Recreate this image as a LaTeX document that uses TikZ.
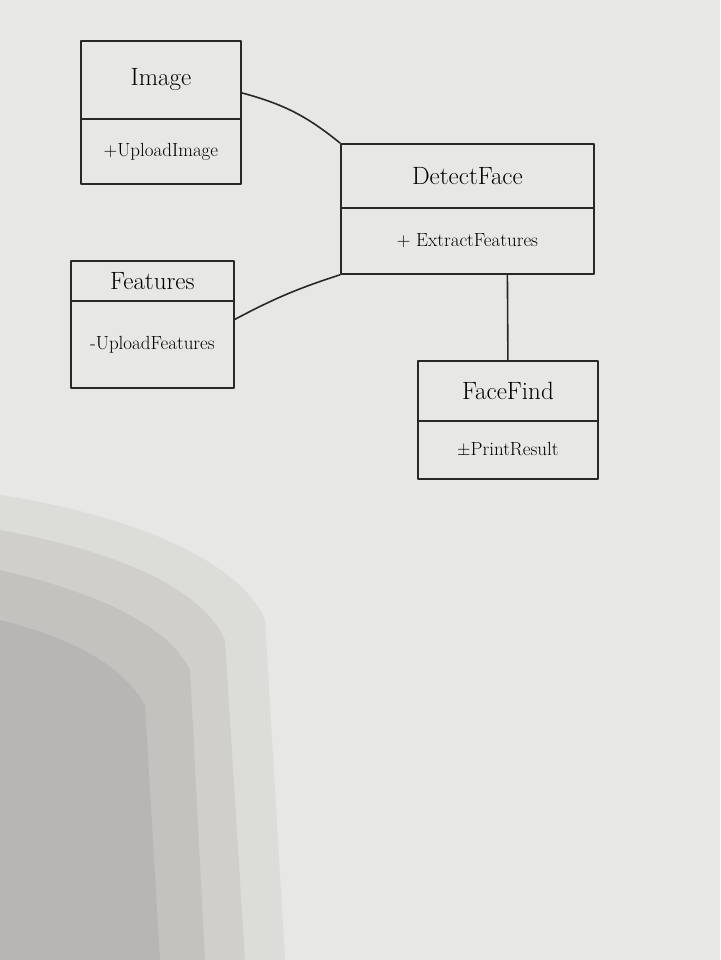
\documentclass[tikz,border=0pt]{standalone}
\usetikzlibrary{positioning}
\definecolor{paper}{RGB}{231,232,229}
\definecolor{shadeA}{RGB}{220,220,217}
\definecolor{shadeB}{RGB}{208,207,204}
\definecolor{shadeC}{RGB}{195,194,191}
\definecolor{shadeD}{RGB}{184,182,180}
\definecolor{ink}{RGB}{40,40,40}
\tikzset{
 classbox/.style={draw=ink, line width=1.8pt, inner sep=0pt, align=center},
 headbox/.style={classbox, font=\fontsize{25}{28}\selectfont},
 opbox/.style={classbox, font=\fontsize{19}{22}\selectfont},
 link/.style={draw=ink, line width=1.6pt}
}
\begin{document}
\begin{tikzpicture}[x=1pt, y=-1pt, line join=round, line cap=round]
 \useasboundingbox (0,0) rectangle (720,960);
 \fill[paper] (0,0) rectangle (720,960);
 % shadow on the paper
 \fill[shadeA] (0,495) .. controls (130,515) and (240,560) .. (265,620) -- (285,960) -- (0,960) -- cycle;
 \fill[shadeB] (0,530) .. controls (110,550) and (200,585) .. (225,640) -- (245,960) -- (0,960) -- cycle;
 \fill[shadeC] (0,570) .. controls (85,590) and (165,620) .. (190,670) -- (205,960) -- (0,960) -- cycle;
 \fill[shadeD] (0,620) .. controls (60,635) and (120,660) .. (145,705) -- (160,960) -- (0,960) -- cycle;

 % classes
 \node[headbox, minimum width=160, minimum height=78, anchor=north west] (imgHead) at (80,40) {Image};
 \node[opbox, minimum width=160, minimum height=65, below=-1.8pt of imgHead] (imgBody) {+UploadImage};

 \node[headbox, minimum width=163, minimum height=40, anchor=north west] (featHead) at (70,260) {Features};
 \node[opbox, minimum width=163, minimum height=87, below=-1.8pt of featHead] (featBody) {-UploadFeatures};

 \node[headbox, minimum width=253, minimum height=64, anchor=north west] (detHead) at (340,143) {DetectFace};
 \node[opbox, minimum width=253, minimum height=66, below=-1.8pt of detHead] (detBody) {+ ExtractFeatures};

 \node[headbox, minimum width=180, minimum height=60, anchor=north west] (findHead) at (417,360) {FaceFind};
 \node[opbox, minimum width=180, minimum height=58, below=-1.8pt of findHead] (findBody) {$\pm$PrintResult};

 % associations
 \draw[link] ([yshift=-13pt]imgHead.east) to[bend left=12] (detHead.north west);
 \draw[link] ([yshift=25pt]featBody.east) to[bend left=5] (detBody.south west);
 \draw[link] ([xshift=40pt]detBody.south) -- (findHead.north);
\end{tikzpicture}
\end{document}
